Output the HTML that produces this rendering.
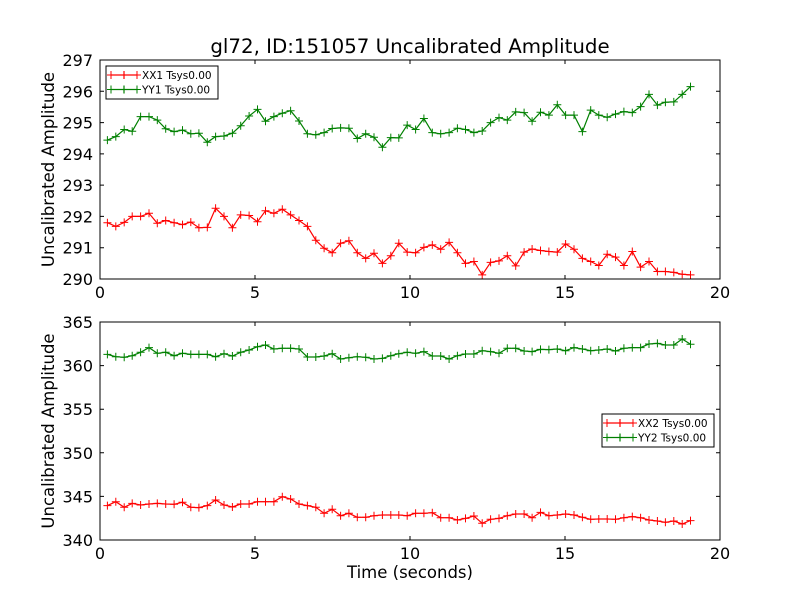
<!DOCTYPE html>
<html><head><meta charset="utf-8"><style>
html,body{margin:0;padding:0;background:#fff;}
svg{display:block;font-family:"DejaVu Sans","Liberation Sans",sans-serif;}
</style></head><body>
<svg id="fig" width="800" height="600" viewBox="0 0 800 600">
<rect width="800" height="600" fill="#fff"/>
<text x="410" y="53" font-size="19.8" text-anchor="middle">gl72, ID:151057 Uncalibrated Amplitude</text>
<text x="410" y="578" font-size="16.5" text-anchor="middle">Time (seconds)</text>
</svg>
<script>
const times=[0.24,0.51,0.78,1.04,1.31,1.58,1.85,2.12,2.39,2.66,2.93,3.19,3.46,3.73,4.00,4.27,4.54,4.81,5.08,5.34,5.61,5.88,6.15,6.42,6.69,6.96,7.23,7.49,7.76,8.03,8.30,8.57,8.84,9.11,9.38,9.64,9.91,10.18,10.45,10.72,10.99,11.26,11.53,11.79,12.06,12.33,12.60,12.87,13.14,13.41,13.68,13.94,14.21,14.48,14.75,15.02,15.29,15.56,15.83,16.09,16.36,16.63,16.90,17.17,17.44,17.71,17.98,18.24,18.51,18.78,19.05];
const xx1=[291.80,291.68,291.81,292.00,292.00,292.10,291.78,291.87,291.80,291.74,291.82,291.64,291.65,292.26,292.00,291.64,292.05,292.03,291.83,292.18,292.10,292.23,292.05,291.87,291.68,291.24,290.98,290.84,291.14,291.22,290.84,290.66,290.82,290.50,290.74,291.14,290.86,290.84,291.01,291.09,290.95,291.17,290.84,290.50,290.56,290.13,290.53,290.58,290.74,290.42,290.86,290.96,290.91,290.88,290.86,291.12,290.95,290.66,290.56,290.43,290.79,290.70,290.43,290.88,290.38,290.56,290.24,290.24,290.21,290.15,290.13];
const yy1=[294.44,294.55,294.78,294.72,295.19,295.19,295.08,294.80,294.71,294.76,294.64,294.66,294.37,294.55,294.57,294.66,294.90,295.21,295.42,295.04,295.19,295.30,295.38,295.05,294.64,294.61,294.68,294.81,294.83,294.82,294.49,294.64,294.53,294.21,294.52,294.51,294.92,294.78,295.13,294.68,294.64,294.68,294.82,294.78,294.68,294.73,295.00,295.16,295.08,295.34,295.32,295.04,295.33,295.24,295.57,295.24,295.24,294.71,295.40,295.24,295.17,295.27,295.35,295.32,295.51,295.90,295.56,295.65,295.66,295.90,296.15];
const xx2=[343.94,344.39,343.75,344.20,344.01,344.13,344.20,344.13,344.09,344.32,343.75,343.71,343.94,344.59,344.01,343.78,344.13,344.13,344.39,344.39,344.39,344.97,344.70,344.13,343.94,343.75,343.06,343.52,342.79,343.06,342.60,342.60,342.79,342.87,342.87,342.87,342.79,343.06,343.06,343.13,342.56,342.56,342.29,342.48,342.75,341.91,342.37,342.48,342.79,342.98,342.98,342.56,343.17,342.79,342.87,342.98,342.87,342.60,342.37,342.41,342.41,342.37,342.56,342.68,342.56,342.29,342.18,342.03,342.18,341.83,342.22];
const yy2=[361.29,361.02,360.95,361.14,361.52,362.06,361.41,361.52,361.14,361.41,361.29,361.29,361.29,361.02,361.37,361.10,361.52,361.79,362.17,362.36,361.90,361.98,361.98,361.90,360.99,360.99,361.10,361.37,360.76,360.91,361.02,360.95,360.76,360.83,361.14,361.37,361.52,361.41,361.60,361.10,361.10,360.76,361.14,361.33,361.33,361.71,361.60,361.41,361.98,361.98,361.67,361.60,361.86,361.83,361.90,361.71,362.06,361.90,361.71,361.79,361.90,361.67,361.98,362.06,362.06,362.48,362.55,362.36,362.36,363.05,362.44];
const xTicks=[0,5,10,15,20];
const yTicks1=[290,291,292,293,294,295,296,297];
const yTicks2=[340,345,350,355,360,365];

const NS='http://www.w3.org/2000/svg';
const svg=document.getElementById('fig');
function mk(tag,attrs,parent){const e=document.createElementNS(NS,tag);for(const k in attrs)e.setAttribute(k,attrs[k]);(parent||svg).appendChild(e);return e;}

function panel(top,bottom,ymin,ymax,yTicks,series,legend,pname){
  const L=100,R=720;
  const g=mk('g',{});
  
  
  const sx=v=>L+(v-0)/(20-0)*(R-L);
  const sy=v=>bottom-(v-ymin)/(ymax-ymin)*(bottom-top);
  series.forEach(s=>{
    let d='';
    s.vals.forEach((v,i)=>{d+=(i?'L':'M')+sx(times[i]).toFixed(1)+' '+sy(v).toFixed(1);});
    const p=mk('path',{d:d,fill:'none',stroke:s.color,'stroke-width':1.2},g);
    
    
    let m='';
    s.vals.forEach((v,i)=>{const x=sx(times[i]),y=sy(v);m+='M'+(x-4).toFixed(1)+' '+y.toFixed(1)+'h8M'+x.toFixed(1)+' '+(y-4).toFixed(1)+'v8';});
    const mp=mk('path',{d:m,fill:'none',stroke:s.color,'stroke-width':1},g);
    
    
  });
  const frame=mk('rect',{x:L,y:top,width:R-L,height:bottom-top,fill:'none',stroke:'#000','stroke-width':1},g);
  
  
  xTicks.forEach(t=>{
    const x=sx(t);
    mk('path',{d:`M${x} ${bottom}v-4M${x} ${top}v4`,stroke:'#000','stroke-width':1},g);
    const tx=mk('text',{x:x,y:bottom+19,'font-size':16,'text-anchor':'middle'},g);
    tx.textContent=t;
    
    
  });
  yTicks.forEach(t=>{
    const y=sy(t);
    mk('path',{d:`M${L} ${y}h4M${R} ${y}h-4`,stroke:'#000','stroke-width':1},g);
    const tx=mk('text',{x:L-7,y:y+6,'font-size':16,'text-anchor':'end'},g);
    tx.textContent=t;
    
    
  });
  const cy=(top+bottom)/2;
  const yt=mk('text',{x:0,y:0,'font-size':16.5,'text-anchor':'middle',transform:`translate(54 ${cy}) rotate(-90)`},g);
  yt.textContent='Uncalibrated Amplitude';
  
  
  const lg=mk('g',{},g);
  
  
  mk('rect',{x:legend.x,y:legend.y,width:112,height:33,fill:'#fff',stroke:'#000','stroke-width':1},lg);
  series.forEach((s,i)=>{
    const y=legend.y+9+i*14.5;
    const x0=legend.x+5;
    mk('path',{d:`M${x0} ${y}h26M${x0+9} ${y}h8M${x0+13} ${y-4}v8`,stroke:s.color,'stroke-width':1.2,fill:'none'},lg);
    mk('path',{d:`M${x0-4} ${y}h8M${x0} ${y-4}v8M${x0+22} ${y}h8M${x0+26} ${y-4}v8`,stroke:s.color,'stroke-width':1,fill:'none'},lg);
    const t=mk('text',{x:x0+31,y:y+4,'font-size':10.5},lg);
    t.textContent=s.label;
    
    
  });
}
panel(60,279,290,297,yTicks1,[{name:'xx1',vals:xx1,color:'#ff0000',label:'XX1 Tsys0.00'},{name:'yy1',vals:yy1,color:'#008000',label:'YY1 Tsys0.00'}],{x:106,y:66},'top-panel');
panel(322,540,340,365,yTicks2,[{name:'xx2',vals:xx2,color:'#ff0000',label:'XX2 Tsys0.00'},{name:'yy2',vals:yy2,color:'#008000',label:'YY2 Tsys0.00'}],{x:602,y:414},'bottom-panel');
</script>
</body></html>
